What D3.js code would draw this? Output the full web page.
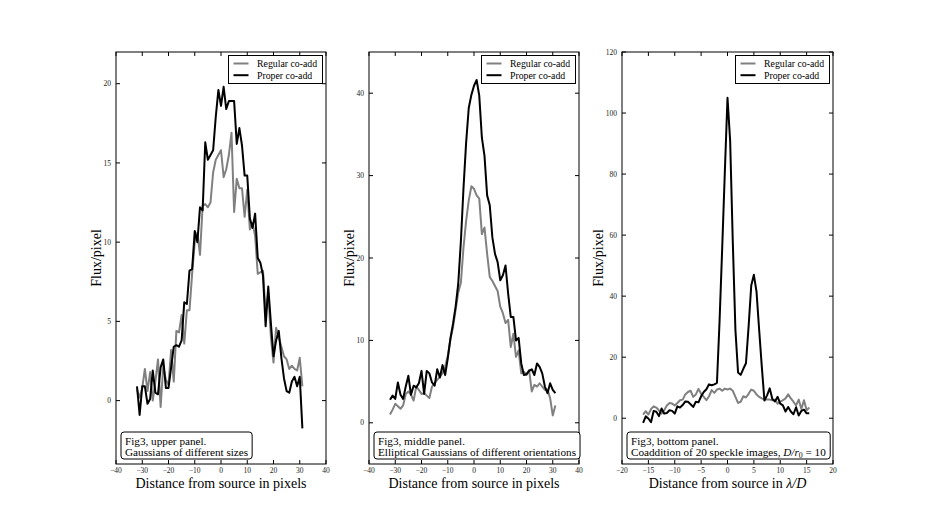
<!DOCTYPE html>
<html>
<head>
<meta charset="utf-8">
<script src="https://cdn.jsdelivr.net/npm/d3@7"></script>
<style>
  body { margin: 0; background: #fff; }
  svg { display: block; font-family: "Liberation Serif", "DejaVu Serif", serif; }
  .tick-label { font-size: 7.5px; fill: #222; }
</style>
</head>
<body>
<svg width="926" height="516"></svg>
<script>
// pixel offsets (upper / middle panels) and lambda/D offsets (bottom panel)
const pixelOffsets = d3.range(-32, 32);
const speckleOffsets = d3.range(-16, 16, 0.5);

// upper panel: Gaussians of different sizes
const upperRegular = [0.7, 0.2, 0.8, 2.0, 0.6, 1.8, 0.0, 1.2, 2.6, -0.4, 2.2, 1.3, 1.0, 3.2, 1.2, 4.4,
  4.3, 5.4, 3.6, 5.7, 5.7, 8.0, 10.0, 10.6, 9.2, 12.3, 12.4, 12.2, 12.5, 14.4, 15.2, 15.5,
  15.8, 14.1, 14.6, 15.5, 16.9, 11.9, 14.0, 13.4, 13.4, 11.6, 13.3, 10.8, 11.2, 10.4, 8.0, 8.1,
  8.2, 5.5, 6.8, 4.0, 2.4, 4.6, 4.0, 3.4, 2.8, 2.6, 2.0, 2.2, 2.0, 1.9, 2.7, 0.9];
const upperProper = [0.9, -0.9, 0.9, 0.9, -0.2, 0.1, 1.9, 0.5, 0.4, 2.1, 2.6, 0.8, 0.8, 2.1, 3.4, 3.5,
  3.4, 3.8, 6.2, 6.1, 8.2, 8.3, 10.7, 10.0, 12.2, 12.0, 16.3, 15.2, 15.5, 15.8, 17.9, 19.6,
  18.6, 19.8, 18.4, 18.9, 18.9, 18.9, 16.2, 17.2, 16.1, 14.2, 14.2, 11.5, 10.9, 11.8, 9.0, 8.7,
  7.9, 4.7, 7.2, 4.9, 2.8, 3.8, 4.4, 2.7, 1.4, 0.6, 0.5, 1.2, 1.5, 0.9, 1.5, -1.75];

// middle panel: elliptical Gaussians of different orientations
const middleRegular = [1.0, 1.6, 2.3, 2.0, 1.7, 2.1, 3.5, 3.8, 3.4, 2.7, 4.4, 4.0, 3.5, 3.6, 3.3, 3.0,
  4.4, 4.8, 5.2, 5.6, 6.0, 6.8, 8.1, 10.1, 11.6, 13.7, 15.8, 17.0, 21.3, 24.5, 27.0, 28.7,
  28.4, 27.6, 27.2, 22.9, 23.7, 20.5, 17.7, 17.2, 16.6, 16.0, 14.1, 13.3, 12.1, 12.5, 9.2, 10.8,
  8.0, 8.8, 6.0, 6.2, 5.8, 6.4, 3.8, 4.6, 4.4, 4.8, 4.4, 4.0, 4.0, 3.0, 0.9, 2.1];
const middleProper = [2.8, 3.3, 2.9, 4.9, 3.4, 2.9, 4.4, 5.7, 3.4, 4.5, 4.3, 4.8, 6.3, 3.5, 6.3, 6.0,
  4.9, 4.5, 6.5, 5.5, 7.0, 5.8, 7.8, 10.2, 12.0, 14.1, 16.9, 22.0, 28.5, 34.0, 38.2, 39.8,
  40.9, 41.6, 39.7, 34.6, 32.4, 27.6, 26.4, 22.5, 20.5, 19.5, 17.3, 17.9, 19.1, 15.7, 12.85, 12.85,
  10.0, 10.3, 7.2, 5.8, 5.9, 6.3, 6.5, 5.8, 7.2, 6.8, 6.0, 4.4, 3.6, 4.8, 4.0, 3.6];

// bottom panel: coaddition of 20 speckle images
const bottomRegular = [1.2, 2.3, 1.2, 3.0, 3.9, 3.5, 2.6, 1.5, 2.6, 4.2, 5.0, 4.8, 4.2, 5.0, 5.9, 6.1,
  7.8, 8.6, 9.0, 7.0, 7.8, 9.6, 8.0, 7.0, 5.9, 7.2, 9.2, 8.3, 9.4, 9.7, 9.0, 9.7,
  9.4, 9.7, 9.0, 7.0, 5.0, 5.4, 7.2, 6.8, 8.0, 9.4, 9.0, 7.8, 7.0, 6.5, 6.1, 6.1,
  6.1, 5.9, 6.1, 4.8, 5.4, 5.9, 6.5, 7.8, 6.5, 5.4, 4.2, 6.1, 3.0, 5.9, 2.6, 3.5];
const bottomProper = [-1.5, 0.6, -0.1, -1.3, 2.4, 2.1, 0.7, 3.2, 1.5, 1.7, 2.6, 2.4, 1.5, 3.9, 3.5, 4.3,
  5.5, 5.4, 4.6, 3.7, 5.4, 5.2, 7.2, 8.6, 9.5, 11.1, 10.8, 11.1, 11.6, 32, 56, 81,
  105, 91, 58, 29, 15, 14.2, 16.2, 18, 30, 43.5, 47, 41.5, 29, 17, 5.8, 7.5,
  9.8, 6.3, 5.5, 7.0, 4.8, 4.2, 2.2, 3.7, 2.2, 1.3, 3.6, 0.9, 2.4, 2.8, 1.6, 1.6];

const seriesNames = ['Regular co-add', 'Proper co-add'];
const seriesColors = ['#808080', '#000000'];

const svg = d3.select('svg');
const axTop = 52, axBottom = 464;

const panels = [
  { x0: 116, x1: 326, xDom: [-40, 40], yDom: [-4, 22],
    xTicks: d3.range(-40, 41, 10), yTicks: [0, 5, 10, 15, 20],
    xs: pixelOffsets, reg: upperRegular, pro: upperProper, ylabX: 101,
    xlabel: [['Distance from source in pixels', 'normal']],
    note: [[['Fig3, upper panel.', 'normal']], [['Gaussians of different sizes', 'normal']]] },
  { x0: 369, x1: 579, xDom: [-40, 40], yDom: [-5, 45],
    xTicks: d3.range(-40, 41, 10), yTicks: [0, 10, 20, 30, 40],
    xs: pixelOffsets, reg: middleRegular, pro: middleProper, ylabX: 354,
    xlabel: [['Distance from source in pixels', 'normal']],
    note: [[['Fig3, middle panel.', 'normal']], [['Elliptical Gaussians of different orientations', 'normal']]] },
  { x0: 622, x1: 833, xDom: [-20, 20], yDom: [-15, 120],
    xTicks: d3.range(-20, 21, 5), yTicks: [0, 20, 40, 60, 80, 100, 120],
    xs: speckleOffsets, reg: bottomRegular, pro: bottomProper, ylabX: 602.5,
    xlabel: [['Distance from source in ', 'normal'], ['\u03bb/D', 'italic']],
    note: [[['Fig3, bottom panel.', 'normal']],
           [['Coaddition of 20 speckle images, ', 'normal'], ['D/r', 'italic'], ['0', 'sub'], [' = 10', 'normal']]] }
];

const fmt = d => d < 0 ? '\u2212' + Math.abs(d) : String(d);

// write a list of [text, style] runs into a text element
function addRuns(textSel, runs) {
  let lowered = false;
  runs.forEach(([t, style]) => {
    const ts = textSel.append('tspan').text(t);
    if (style === 'italic') ts.attr('font-style', 'italic');
    if (style === 'sub') {
      ts.attr('font-size', '0.7em').attr('dy', 2.5);
      lowered = true;
    } else if (lowered) {
      ts.attr('dy', -2.5);
      lowered = false;
    }
  });
}

panels.forEach(p => {
  const x = d3.scaleLinear().domain(p.xDom).range([p.x0, p.x1]);
  const y = d3.scaleLinear().domain(p.yDom).range([axBottom, axTop]);
  const g = svg.append('g');

  const line = d3.line().x((d, i) => x(p.xs[i])).y(d => y(d));
  [p.reg, p.pro].forEach((vals, k) => {
    g.append('path')
      .attr('d', line(vals))
      .attr('fill', 'none')
      .attr('stroke', seriesColors[k])
      .attr('stroke-width', 2)
      .attr('stroke-linejoin', 'round');
  });

  // frame
  g.append('rect')
    .attr('x', p.x0).attr('y', axTop)
    .attr('width', p.x1 - p.x0).attr('height', axBottom - axTop)
    .attr('fill', 'none').attr('stroke', '#000').attr('stroke-width', 1);

  // inward ticks on all four sides
  const tl = 4;
  p.xTicks.forEach(t => {
    const xp = x(t);
    g.append('line').attr('x1', xp).attr('x2', xp).attr('y1', axBottom).attr('y2', axBottom - tl).attr('stroke', '#000');
    g.append('line').attr('x1', xp).attr('x2', xp).attr('y1', axTop).attr('y2', axTop + tl).attr('stroke', '#000');
    g.append('text').attr('class', 'tick-label')
      .attr('x', xp).attr('y', axBottom + 8.5)
      .attr('text-anchor', 'middle').text(fmt(t));
  });
  p.yTicks.forEach(t => {
    const yp = y(t);
    g.append('line').attr('x1', p.x0).attr('x2', p.x0 + tl).attr('y1', yp).attr('y2', yp).attr('stroke', '#000');
    g.append('line').attr('x1', p.x1).attr('x2', p.x1 - tl).attr('y1', yp).attr('y2', yp).attr('stroke', '#000');
    g.append('text').attr('class', 'tick-label')
      .attr('x', p.x0 - 5).attr('y', yp + 2.6)
      .attr('text-anchor', 'end').text(fmt(t));
  });

  // axis labels
  g.append('text')
    .attr('transform', `translate(${p.ylabX},${(axTop + axBottom) / 2}) rotate(-90)`)
    .attr('text-anchor', 'middle')
    .attr('font-size', 14)
    .text('Flux/pixel');
  const xl = g.append('text')
    .attr('x', (p.x0 + p.x1) / 2).attr('y', 488)
    .attr('text-anchor', 'middle')
    .attr('font-size', 14);
  addRuns(xl, p.xlabel);

  // legend
  const lw = 94, lx = p.x1 - 3.5 - lw, ly = 55.5;
  const leg = g.append('g');
  leg.append('rect').attr('x', lx).attr('y', ly).attr('width', lw).attr('height', 28)
    .attr('fill', '#fff').attr('stroke', '#000').attr('stroke-width', 1);
  seriesNames.forEach((name, k) => {
    const yy = ly + 8 + k * 11.7;
    leg.append('line').attr('x1', lx + 5).attr('x2', lx + 20).attr('y1', yy).attr('y2', yy)
      .attr('stroke', seriesColors[k]).attr('stroke-width', 2);
    leg.append('text').attr('x', lx + 28.5).attr('y', yy + 3.3)
      .attr('font-size', 9.8).text(name);
  });

  // note box
  const ng = g.append('g');
  const box = ng.append('rect');
  const tx = p.x0 + 9;
  p.note.forEach((runs, k) => {
    const t = ng.append('text').attr('x', tx).attr('y', 444.5 + k * 11)
      .attr('font-size', 11.2);
    addRuns(t, runs);
  });
  const bb = ng.node().getBBox();
  box.attr('x', p.x0 + 5).attr('y', 432)
    .attr('width', bb.x + bb.width - (p.x0 + 5) + 4).attr('height', 27)
    .attr('rx', 3).attr('ry', 3)
    .attr('fill', '#fff').attr('stroke', '#000').attr('stroke-width', 1);
});
</script>
</body>
</html>
